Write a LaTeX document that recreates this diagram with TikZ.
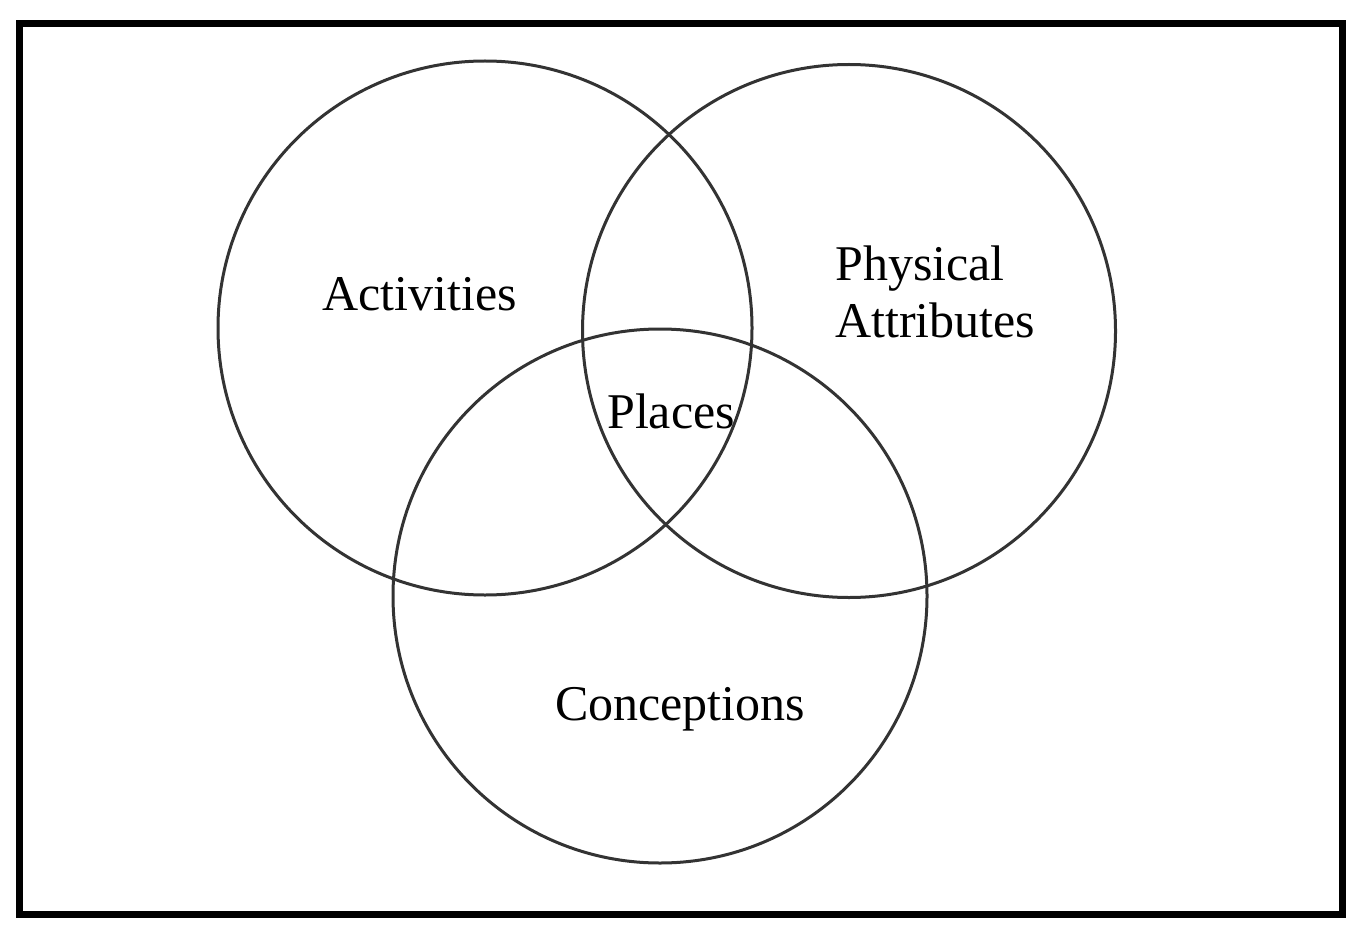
\documentclass[tikz,border=0pt]{standalone}
\usepackage{fontspec}
\setmainfont{Liberation Serif}
\begin{document}
\begin{tikzpicture}[x=1pt,y=-1pt,
  venn/.style={draw=black!80, line width=3pt},
  lbl/.style={inner sep=0pt, font=\fontsize{50}{60}\selectfont, text=black}]
\useasboundingbox (0,0) rectangle (1370,944);
\fill[white] (0,0) rectangle (1370,944);
\draw[line width=7pt] (19.5,23.5) rectangle (1342.5,914);
\node[venn, circle, minimum size=534pt, inner sep=0pt] (act) at (485,328) {};
\node[venn, circle, minimum size=533pt, inner sep=0pt] (phy) at (849,331) {};
\node[venn, circle, minimum size=534pt, inner sep=0pt] (con) at (660,596) {};
\node[lbl, anchor=base west] (tact) at (322,310) {Activities};
\node[lbl, anchor=base west] (tphy) at (835,280) {Physical};
\node[lbl, anchor=base west] (tatt) at (835,337) {Attributes};
\node[lbl, anchor=base west] (tpla) at (607,428) {Places};
\node[lbl, anchor=base west] (tcon) at (555,720) {Conceptions};
\end{tikzpicture}
\end{document}
